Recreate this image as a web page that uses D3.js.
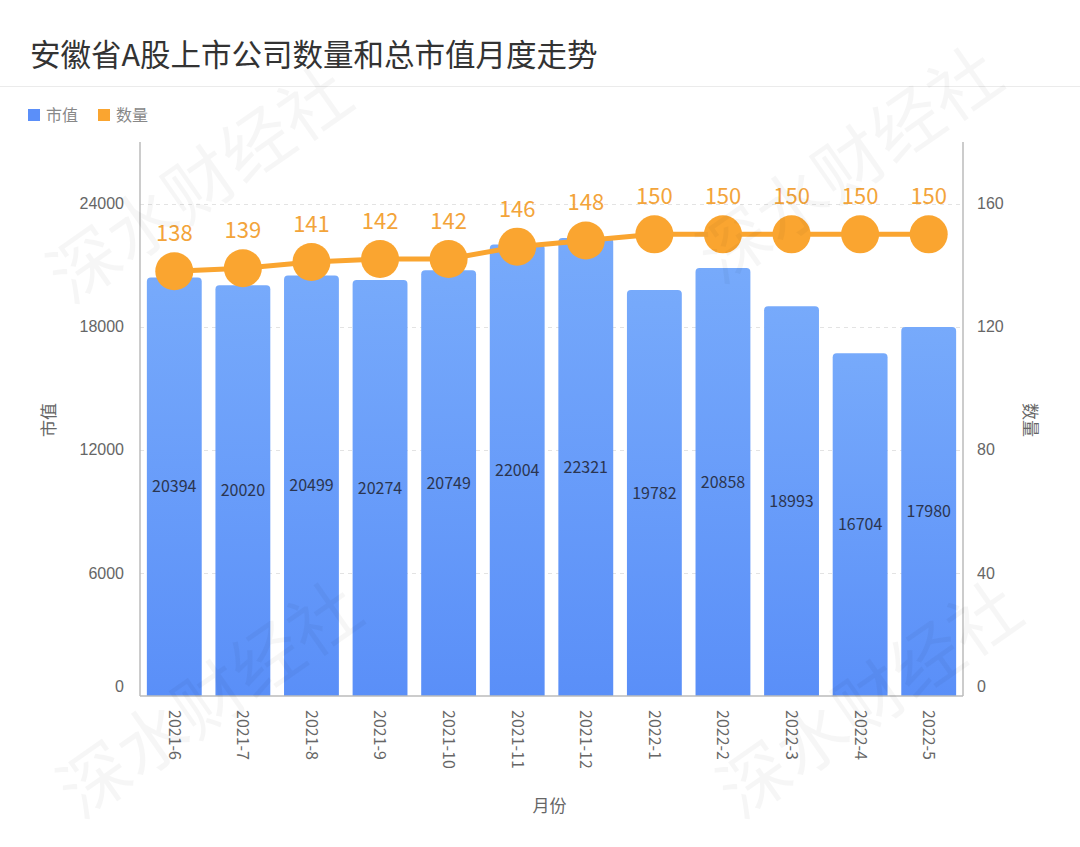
<!doctype html>
<html>
<head>
    <meta charset="utf-8">
    <title>安徽省A股上市公司数量和总市值月度走势</title>
    <style>
        body {
            margin: 0;
            background: #FFFFFF;
            font-family: "Noto Sans CJK SC", "Noto Sans", sans-serif;
        }

        text.tick-label {
            fill: #666666;
            font-size: 16px;
        }

        line.grid {
            stroke: #E3E3E3;
            stroke-dasharray: 4 4;
        }

        line.axis-line {
            stroke: #BBBBBB;
            stroke-width: 1.5;
        }
    </style>
</head>
<body>
    <div id="chart"></div>

    <script src="https://cdn.jsdelivr.net/npm/d3@7"></script>
    <script>
        var months = ['2021-6', '2021-7', '2021-8', '2021-9', '2021-10', '2021-11',
            '2021-12', '2022-1', '2022-2', '2022-3', '2022-4', '2022-5'];
        var market_values = [20394, 20020, 20499, 20274, 20749, 22004,
            22321, 19782, 20858, 18993, 16704, 17980];
        var counts = [138, 139, 141, 142, 142, 146, 148, 150, 150, 150, 150, 150];

        var left_ticks = [0, 6000, 12000, 18000, 24000];
        var right_ticks = [0, 40, 80, 120, 160];

        var svg_width = 1080;
        var svg_height = 847;

        var plot = { left: 140, right: 963, top: 142, bottom: 696 };

        var svg = d3.select('#chart').append('svg')
            .attr('width', svg_width)
            .attr('height', svg_height);

        var defs = svg.append('defs');
        var grad = defs.append('linearGradient')
            .attr('id', 'bar-grad')
            .attr('x1', 0).attr('y1', 0)
            .attr('x2', 0).attr('y2', 1);
        grad.append('stop').attr('offset', '0%').attr('stop-color', '#77AAFB');
        grad.append('stop').attr('offset', '100%').attr('stop-color', '#5A8FF8');

        // title + separator
        svg.append('text')
            .attr('x', 30)
            .attr('y', 66)
            .attr('fill', '#333333')
            .attr('font-size', 30.5)
            .text('安徽省A股上市公司数量和总市值月度走势');

        svg.append('line')
            .attr('x1', 0).attr('x2', svg_width)
            .attr('y1', 86.5).attr('y2', 86.5)
            .attr('stroke', '#EBEBEB');

        // legend
        var legend = [
            { name: '市值', color: '#5B8FF9', x: 28 },
            { name: '数量', color: '#FAA530', x: 98 }
        ];
        var lg = svg.append('g').selectAll('g')
            .data(legend)
          .enter().append('g')
            .attr('transform', function(d) {
                return 'translate(' + d.x + ',115)';
            });
        lg.append('rect')
            .attr('x', 0).attr('y', -6)
            .attr('width', 12).attr('height', 12)
            .attr('fill', function(d) { return d.color; });
        lg.append('text')
            .attr('x', 18)
            .attr('y', 6)
            .attr('fill', '#888888')
            .attr('font-size', 16)
            .text(function(d) { return d.name; });

        // scales
        var x = d3.scaleBand()
            .domain(months)
            .range([plot.left, plot.right])
            .paddingInner(0.2)
            .paddingOuter(0.1);

        var y_left = d3.scaleLinear()
            .domain([0, 27000])
            .range([plot.bottom, plot.top]);

        var y_right = d3.scaleLinear()
            .domain([0, 180])
            .range([plot.bottom, plot.top]);

        // grid lines
        svg.append('g').selectAll('line')
            .data(left_ticks.filter(function(d) { return d > 0; }))
          .enter().append('line')
            .attr('class', 'grid')
            .attr('x1', plot.left).attr('x2', plot.right)
            .attr('y1', function(d) { return Math.round(y_left(d)) + 0.5; })
            .attr('y2', function(d) { return Math.round(y_left(d)) + 0.5; });

        // left axis
        var left_axis = d3.axisLeft(y_left)
            .tickValues(left_ticks)
            .tickFormat(d3.format('d'))
            .tickSize(0)
            .tickPadding(16);
        var lax = svg.append('g')
            .attr('transform', 'translate(' + plot.left + ',0)')
            .call(left_axis);
        lax.select('.domain').remove();
        lax.selectAll('text')
            .attr('class', 'tick-label')
            .attr('font-family', null)
            .attr('dy', function(d) { return d === 0 ? '-0.3em' : '0.32em'; });

        // right axis
        var right_axis = d3.axisRight(y_right)
            .tickValues(right_ticks)
            .tickFormat(d3.format('d'))
            .tickSize(0)
            .tickPadding(14);
        var rax = svg.append('g')
            .attr('transform', 'translate(' + plot.right + ',0)')
            .call(right_axis);
        rax.select('.domain').remove();
        rax.selectAll('text')
            .attr('class', 'tick-label')
            .attr('font-family', null)
            .attr('dy', function(d) { return d === 0 ? '-0.3em' : '0.32em'; });

        // bars
        var bar_w = x.bandwidth();
        var r = 4;
        svg.append('g').selectAll('path')
            .data(market_values)
          .enter().append('path')
            .attr('fill', 'url(#bar-grad)')
            .attr('d', function(d, i) {
                var x0 = x(months[i]);
                var y0 = y_left(d);
                var p = d3.path();
                p.moveTo(x0, plot.bottom);
                p.lineTo(x0, y0 + r);
                p.quadraticCurveTo(x0, y0, x0 + r, y0);
                p.lineTo(x0 + bar_w - r, y0);
                p.quadraticCurveTo(x0 + bar_w, y0, x0 + bar_w, y0 + r);
                p.lineTo(x0 + bar_w, plot.bottom);
                p.closePath();
                return p.toString();
            });

        svg.append('g').selectAll('text')
            .data(market_values)
          .enter().append('text')
            .attr('x', function(d, i) { return x(months[i]) + bar_w / 2; })
            .attr('y', function(d) { return (y_left(d) + plot.bottom) / 2; })
            .attr('dy', '0.35em')
            .attr('text-anchor', 'middle')
            .attr('fill', '#2B3550')
            .attr('font-size', 16)
            .text(function(d) { return d; });

        // axis lines
        svg.append('line').attr('class', 'axis-line')
            .attr('x1', plot.left).attr('x2', plot.left)
            .attr('y1', plot.top).attr('y2', plot.bottom);
        svg.append('line').attr('class', 'axis-line')
            .attr('x1', plot.right).attr('x2', plot.right)
            .attr('y1', plot.top).attr('y2', plot.bottom);
        svg.append('line').attr('class', 'axis-line')
            .attr('x1', plot.left).attr('x2', plot.right)
            .attr('y1', plot.bottom).attr('y2', plot.bottom);

        // count line
        var cx = function(i) { return x(months[i]) + bar_w / 2; };
        var line = d3.line()
            .x(function(d, i) { return cx(i); })
            .y(function(d) { return y_right(d); });

        svg.append('path')
            .datum(counts)
            .attr('fill', 'none')
            .attr('stroke', '#FAA530')
            .attr('stroke-width', 5)
            .attr('d', line);

        svg.append('g').selectAll('circle')
            .data(counts)
          .enter().append('circle')
            .attr('cx', function(d, i) { return cx(i); })
            .attr('cy', function(d) { return y_right(d); })
            .attr('r', 19)
            .attr('fill', '#FAA530');

        svg.append('g').selectAll('text')
            .data(counts)
          .enter().append('text')
            .attr('x', function(d, i) { return cx(i); })
            .attr('y', function(d) { return y_right(d) - 30; })
            .attr('text-anchor', 'middle')
            .attr('fill', '#F3A43A')
            .attr('font-size', 22)
            .text(function(d) { return d; });

        // x labels, rotated
        svg.append('g').selectAll('text')
            .data(months)
          .enter().append('text')
            .attr('class', 'tick-label')
            .attr('transform', function(d) {
                return 'translate(' + (x(d) + bar_w / 2) + ',' + (plot.bottom + 14) + ') rotate(90)';
            })
            .attr('dy', '0.35em')
            .text(function(d) { return d; });

        // axis titles
        svg.append('text')
            .attr('transform', 'translate(' + ((plot.left + plot.right) / 2 - 2) + ',812)')
            .attr('text-anchor', 'middle')
            .attr('fill', '#666666')
            .attr('font-size', 17)
            .text('月份');

        svg.append('text')
            .attr('transform', 'translate(55,420) rotate(-90)')
            .attr('text-anchor', 'middle')
            .attr('fill', '#666666')
            .attr('font-size', 17)
            .text('市值');

        svg.append('text')
            .attr('transform', 'translate(1024,420) rotate(90)')
            .attr('text-anchor', 'middle')
            .attr('fill', '#666666')
            .attr('font-size', 17)
            .text('数量');

        // watermark
        var marks = [[200, 185], [850, 165], [210, 700], [870, 700]];
        svg.append('g').selectAll('text')
            .data(marks)
          .enter().append('text')
            .attr('transform', function(d) {
                return 'translate(' + d[0] + ',' + d[1] + ') rotate(-35)';
            })
            .attr('text-anchor', 'middle')
            .attr('dy', '0.35em')
            .attr('fill', '#000000')
            .attr('fill-opacity', 0.035)
            .attr('font-size', 70)
            .text('深水财经社');
    </script>
</body>
</html>
